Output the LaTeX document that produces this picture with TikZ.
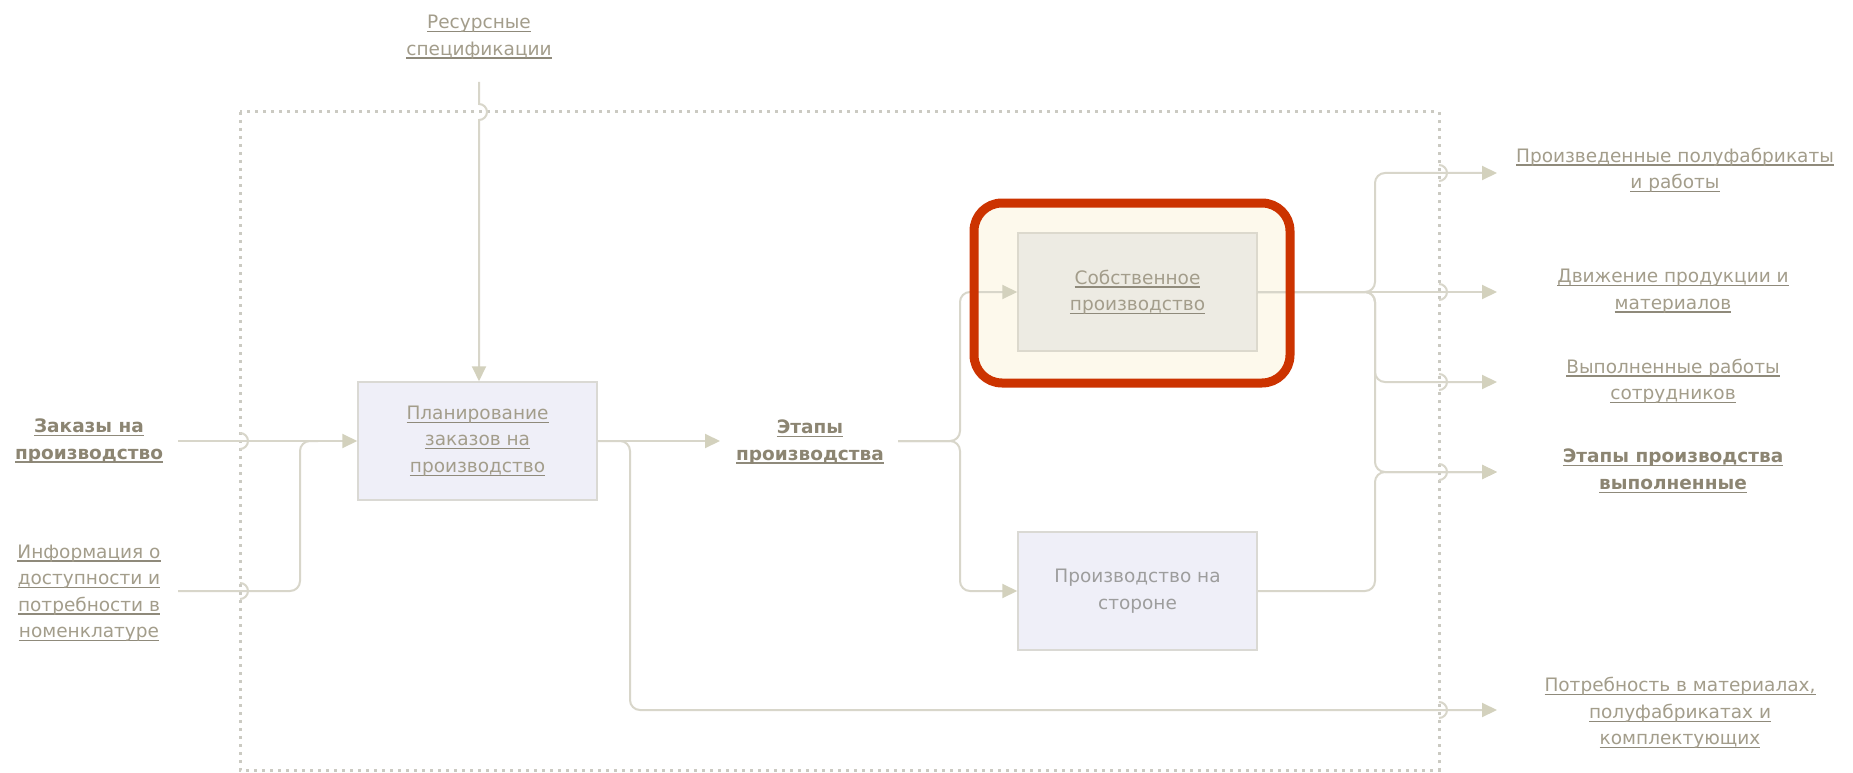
\documentclass[tikz,border=0pt]{standalone}
\usepackage{fontspec}
\setmainfont{DejaVu Sans}
\usetikzlibrary{arrows.meta,backgrounds}
\definecolor{wire}{HTML}{D8D6CA}
\definecolor{tip}{HTML}{D3D1BD}
\definecolor{framec}{HTML}{CBCAC2}
\definecolor{lbl}{HTML}{A39D8B}
\definecolor{lblb}{HTML}{8C8572}
\definecolor{ulc}{HTML}{8F8A7B}
\definecolor{extc}{HTML}{9D9D9D}
\definecolor{boxfill}{HTML}{EFEFF8}
\definecolor{boxline}{HTML}{DAD9D4}
\definecolor{ownfill}{HTML}{EDEBE3}
\definecolor{ownline}{HTML}{DCD9CD}
\definecolor{halo}{HTML}{FDF9EC}
\definecolor{markc}{HTML}{CC3300}

% underlined link text with a fixed-offset rule
\newcommand\lnk[1]{\setbox0\hbox{#1}\rlap{\textcolor{ulc}{\rule[-3.6pt]{\wd0}{1.3pt}}}\box0}

\tikzset{
  wire/.style={draw=wire, line width=2pt},
  flow/.style={wire, -{Triangle[length=15pt,width=14pt,color=tip,fill=tip]}},
  txt/.style={text=lbl, align=center, inner sep=2pt,
    font=\fontsize{18.5}{26.5}\selectfont},
  btxt/.style={txt, text=lblb, font=\fontsize{18.5}{26.5}\selectfont\bfseries},
  fbox/.style={draw=boxline, fill=boxfill, line width=1.5pt,
    minimum width=239pt, minimum height=118pt, align=center, text=lbl,
    font=\fontsize{18.5}{26.5}\selectfont},
  hop/.style={draw=wire, line width=2pt},
  dotframe/.style={draw=framec, line width=3pt, dash pattern=on 3pt off 5pt},
}

\begin{document}
\begin{tikzpicture}[x=1pt,y=-1pt]
\useasboundingbox (0,0) rectangle (1853,773);

% function boxes
\node[fbox] (plan) at (477.5,441) {\lnk{Планирование}\\\lnk{заказов на}\\\lnk{производство}};
\node[fbox, draw=ownline, fill=ownfill] (own) at (1137.5,292) {\lnk{Собственное}\\\lnk{производство}};
\node[fbox, text=extc] (ext) at (1137.5,591) {Производство на\\стороне};

% arrow labels
\node[txt]  (res)   at (479,37)   {\lnk{Ресурсные}\\\lnk{спецификации}};
\node[btxt] (ord)   at (89,441)   {\lnk{Заказы на}\\\lnk{производство}};
\node[txt]  (inf)   at (89,593)   {\lnk{Информация о}\\\lnk{доступности и}\\\lnk{потребности в}\\\lnk{номенклатуре}};
\node[btxt] (stage) at (810,442)  {\lnk{Этапы}\\\lnk{производства}};
\node[txt]  (out1)  at (1675,170) {\lnk{Произведенные полуфабрикаты}\\\lnk{и работы}};
\node[txt]  (out2)  at (1673,291) {\lnk{Движение продукции и}\\\lnk{материалов}};
\node[txt]  (out3)  at (1673,381) {\lnk{Выполненные работы}\\\lnk{сотрудников}};
\node[btxt] (out4)  at (1673,471) {\lnk{Этапы производства}\\\lnk{выполненные}};
\node[txt]  (out5)  at (1680,713) {\lnk{Потребность в материалах,}\\\lnk{полуфабрикатах и}\\\lnk{комплектующих}};

% connector ends and junctions
\coordinate (resIn) at (479,82);
\coordinate (ordIn) at (178,441);
\coordinate (infIn) at (178,591);
\coordinate (mx)    at (300,441);
\coordinate (dx)    at (630,710);
\coordinate (stIn)  at (720,441);
\coordinate (stOut) at (898,441);
\coordinate (sx)    at (960,441);
\coordinate (ox)    at (1375,292);
\coordinate (oy)    at (1375,472);
\coordinate (o1)    at (1497,173);
\coordinate (o2)    at (1497,292);
\coordinate (o3)    at (1497,382);
\coordinate (o4)    at (1497,472);
\coordinate (o5)    at (1497,710);

\begin{scope}[on background layer]
  \fill[white] (0,0) rectangle (1853,773);
  \draw[dotframe] (240,112) rectangle (1439,770);
  \fill[halo, rounded corners=28pt] (974,203) rectangle (1290,383);
\end{scope}

% inputs and control
\draw[flow] (resIn) -- (479,104) arc[start angle=-90,end angle=90,radius=8] -- (plan.north -| resIn);
\draw[flow] (ordIn) -- (plan.west);
\draw[wire, rounded corners=10pt] (infIn) -| (mx) -- ++(18,0);

% planning outputs
\draw[flow] (plan.east) -- (stIn);
\draw[flow, rounded corners=10pt] (plan.east) -| (dx) -- (o5);

% production stages split
\draw[flow, rounded corners=10pt] (stOut) -- (sx) |- (own.west);
\draw[flow, rounded corners=10pt] (stOut) -- (sx) |- (ext.west);

% results
\draw[flow] (own.east) -- (o2);
\draw[flow, rounded corners=10pt] (own.east) -- (ox) |- (o1);
\draw[flow, rounded corners=10pt] (own.east) -- (ox) |- (o3);
\draw[flow, rounded corners=10pt] (own.east) -- (ox) |- (o4);
\draw[flow, rounded corners=10pt] (ext.east) -| (oy) -- (o4);

% line hops on the boundary
\foreach \yy in {441,591}
  \draw[hop] (240,{\yy-8}) arc[start angle=-90,end angle=90,radius=8];
\foreach \yy in {173,292,382,472,710}
  \draw[hop] (1439,{\yy-8}) arc[start angle=-90,end angle=90,radius=8];

% highlight frame
\draw[markc, line width=9pt, rounded corners=28pt] (974,203) rectangle (1290,383);
\end{tikzpicture}
\end{document}
